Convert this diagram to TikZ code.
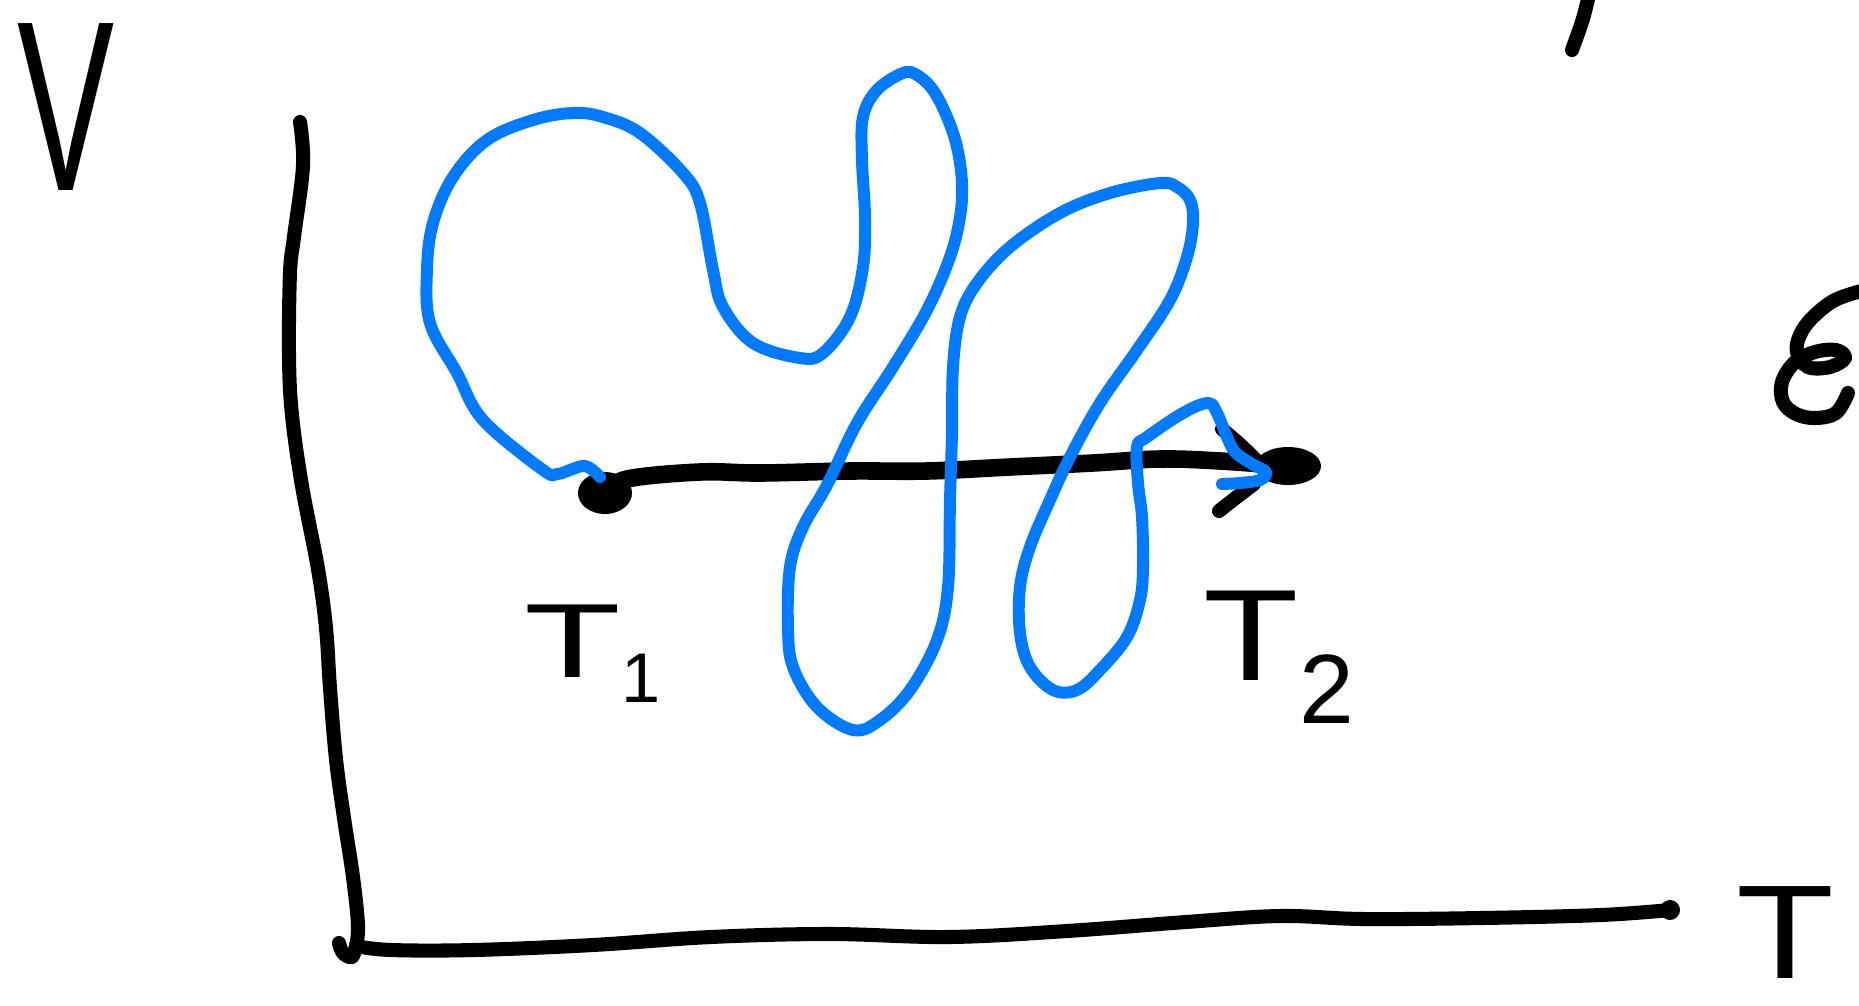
\documentclass[tikz,border=0pt]{standalone}
\usepackage{graphicx}
\usepackage{fontspec}
\setmainfont{Liberation Sans}
\usetikzlibrary{shapes.geometric, positioning}
\definecolor{ink}{HTML}{000000}
\definecolor{penblue}{HTML}{007AFF}

\begin{document}
\begin{tikzpicture}[x=0.01cm, y=-0.01cm,
    axisline/.style={draw=ink, line width=4pt, line cap=round, line join=round},
    pathline/.style={draw=ink, line width=5pt, line cap=round, line join=round},
    bluecurve/.style={draw=penblue, line width=3.4pt, line cap=round, line join=round},
    blob/.style={ellipse, fill=ink, inner sep=0pt},
    lbl/.style={inner sep=0pt, text=ink}
]
    \useasboundingbox (0,0) rectangle (1859,1005);
    \clip (0,0) rectangle (1859,1005);

    % --- Axes ---
    \coordinate (vtop) at (300,122);
    \coordinate (origin) at (356,946);
    \coordinate (tend) at (1670,910);
    \draw[axisline] plot[smooth, tension=0.6] coordinates {(vtop) (303,166) (294,237) (290,273) (289,356) (292,415) (302,486) (318,569) (326,628) (330,688) (336,759) (344,818) (353,877) (358,925) (origin)};
    \draw[axisline] plot[smooth, tension=0.6] coordinates {(origin) (352,957) (343,953) (339,943)};
    \draw[axisline] plot[smooth, tension=0.6] coordinates {(origin) (391,950) (474,950) (593,945) (711,937) (830,934) (949,937) (1067,931) (1186,922) (1280,916) (1363,919) (1482,918) (1601,915) (tend)};
    \fill[ink] (tend) circle (0.1cm);

    \node[lbl, anchor=base, font=\fontsize{69}{69}\selectfont] (vlbl) at (66,190) {\scalebox{0.6}[1]{V}};
    \node[lbl, anchor=base, font=\fontsize{38}{38}\selectfont] (tlbl) at (1785,978) {\scalebox{1.2}[1]{T}};

    % --- Path from T1 to T2 ---
    \node[blob, minimum width=0.54cm, minimum height=0.42cm] (t1dot) at (605,493) {};
    \node[blob, minimum width=0.66cm, minimum height=0.38cm] (t2end) at (1288,466) {};
    \draw[pathline] plot[smooth, tension=0.6] coordinates {(t1dot.center) (627,479) (700,472) (760,473) (850,471) (927,471) (1010,467) (1093,463) (1160,459) (1220,461) (t2end.center)};
    \coordinate (headup) at (1222,429);
    \coordinate (headlow) at (1219,511);
    \draw[pathline, line width=4pt] (headup) .. controls (1242,446) .. (1262,466);
    \draw[pathline, line width=4pt] (headlow) .. controls (1238,496) .. (1254,484);

    \node[lbl, anchor=base west, font=\fontsize{30}{30}\selectfont] (t1lbl) at (524,677) {\scalebox{1.5}[1]{T}\raisebox{-0.25cm}{\fontsize{20}{20}\selectfont 1}};
    \node[lbl, anchor=base west, font=\fontsize{37}{37}\selectfont] (t2lbl) at (1203,680) {\scalebox{1.2}[1]{T}\raisebox{-0.43cm}{\fontsize{28}{28}\selectfont 2}};

    % --- Blue curve ---
    \coordinate (bstart) at (600,477);
    \coordinate (bend) at (1222,484);
    \draw[bluecurve] plot[smooth, tension=0.6] coordinates {(bstart) (590,468) (582,466) (570,470) (557,474) (543,470) (483,420) (457,373) (430,323) (427,270) (433,223) (453,177) (487,140) (533,120) (573,113) (603,117) (640,133) (683,173) (700,203) (713,270) (723,307) (753,343) (800,358) (823,353) (850,317) (863,267) (865,217) (862,160) (863,117) (877,90) (903,73) (917,75) (933,90) (947,117) (957,147) (962,183) (960,217) (950,257) (927,310) (893,367) (857,423) (827,485) (803,527) (790,567) (788,627) (793,667) (817,707) (853,730) (880,720) (910,690) (937,640) (948,587) (950,500) (952,433) (953,367) (960,317) (977,283) (1010,247) (1060,213) (1110,193) (1160,183) (1177,187) (1190,200) (1193,223) (1187,257) (1170,300) (1137,350) (1100,403) (1070,457) (1050,500) (1030,547) (1020,587) (1020,633) (1030,667) (1053,690) (1077,690) (1100,670) (1127,637) (1140,600) (1143,567) (1142,517) (1138,483) (1137,447) (1147,437) (1183,413) (1208,403) (1217,413) (1227,437) (1235,452) (1252,464) (1266,472) (1260,480) (1240,483) (bend)};

    % --- cut-off marks at the edges ---
    \draw[axisline] (1589,-5) .. controls (1583,20) .. (1572,50);
    \draw[axisline] plot[smooth, tension=0.6] coordinates {(1865,290) (1835,300) (1812,318) (1800,335) (1797,352) (1808,367) (1830,367) (1845,358) (1836,350) (1815,352) (1795,362) (1782,382) (1783,402) (1796,414) (1815,418) (1836,413) (1848,393)};
\end{tikzpicture}
\end{document}
